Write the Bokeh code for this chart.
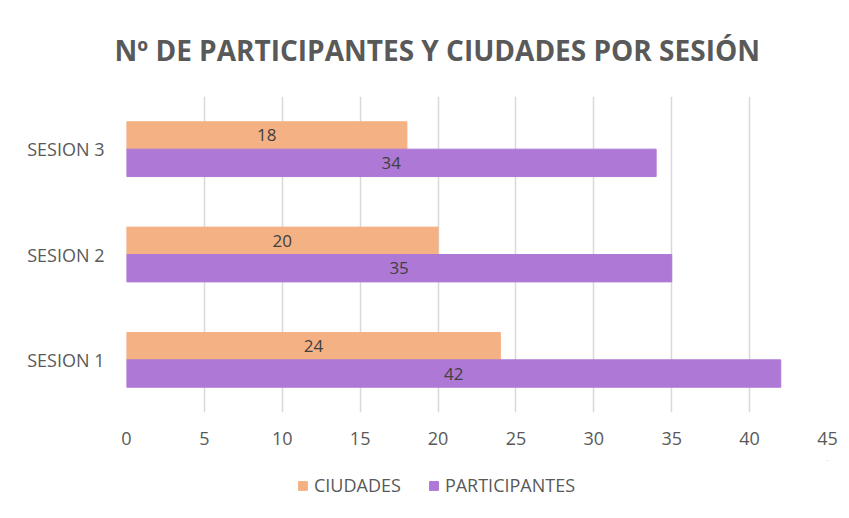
from bokeh.plotting import figure
from bokeh.layouts import column
from bokeh.models import ColumnDataSource, Legend, LegendItem, FixedTicker, FactorRange, Range1d, Title
from bokeh.transform import dodge
from bokeh.core.properties import value
from bokeh.embed import file_html
from bokeh.resources import INLINE

# ---- data ----
sessions = ["SESION 1", "SESION 2", "SESION 3"]
ciudades = [24, 20, 18]
participantes = [42, 35, 34]
x_ticks = [0, 5, 10, 15, 20, 25, 30, 35, 40, 45]
title_text = "Nº DE PARTICIPANTES Y CIUDADES POR SESIÓN"
series_names = ["CIUDADES", "PARTICIPANTES"]

ORANGE = "#F4B183"
PURPLE = "#AE78D6"
GRID = "#D9D9D9"
TXT = "#595959"
FONT = "Open Sans"

src = ColumnDataSource(dict(
    cat=sessions,
    ciu=ciudades,
    par=participantes,
    ciu_mid=[v / 2 for v in ciudades],
    par_mid=[v / 2 for v in participantes],
    ciu_lbl=[str(v) for v in ciudades],
    par_lbl=[str(v) for v in participantes],
))

p = figure(
    frame_width=701, frame_height=316,
    y_range=FactorRange(*sessions, range_padding=0),
    x_range=Range1d(0, 45),
    output_backend="svg", toolbar_location=None,
    min_border_left=126, min_border_right=22,
    min_border_top=96, min_border_bottom=48,
    title=None,
)
p.outline_line_color = None
p.background_fill_color = "white"
p.border_fill_color = "white"

bar_h = 0.26
off = 0.13
r_ciu = p.hbar(y=dodge("cat", off, range=p.y_range), left=0, right="ciu", height=bar_h,
               source=src, fill_color=ORANGE, line_color=ORANGE)
r_par = p.hbar(y=dodge("cat", -off, range=p.y_range), left=0, right="par", height=bar_h,
               source=src, fill_color=PURPLE, line_color=PURPLE)

p.text(x="ciu_mid", y=dodge("cat", off, range=p.y_range), text="ciu_lbl", source=src,
       text_align="center", text_baseline="middle", text_font=value(FONT),
       text_font_size="17px", text_color="#404040")
p.text(x="par_mid", y=dodge("cat", -off, range=p.y_range), text="par_lbl", source=src,
       text_align="center", text_baseline="middle", text_font=value(FONT),
       text_font_size="17px", text_color="#404040")

# axes
p.xaxis.ticker = FixedTicker(ticks=x_ticks)
for ax in (p.xaxis, p.yaxis):
    ax.axis_line_color = None
    ax.major_tick_line_color = None
    ax.minor_tick_line_color = None
    ax.major_label_text_font = FONT
    ax.major_label_text_font_size = "18px"
    ax.major_label_text_color = TXT
p.xaxis.major_label_standoff = 13
p.yaxis.major_label_standoff = 16

p.xgrid.grid_line_color = GRID
p.xgrid.grid_line_width = 1.5
p.ygrid.grid_line_color = None

# title
p.add_layout(Title(text=title_text, align="left", offset=-12, standoff=56,
                   text_font=FONT, text_font_style="bold", text_font_size="28px",
                   text_color=TXT), "above")

# legend in its own strip below the chart
lg = figure(width=849, height=58, output_backend="svg", toolbar_location=None,
            x_range=Range1d(0, 1), y_range=Range1d(0, 1),
            min_border_left=0, min_border_right=0, min_border_top=0, min_border_bottom=0,
            x_axis_type=None, y_axis_type=None, title=None)
lg.outline_line_color = None
lg.xgrid.visible = False
lg.ygrid.visible = False
# legend-only renderers: their single row lies fully outside the visible range
lg_src = ColumnDataSource(dict(y=[2], left=[2], right=[3]))
l_ciu = lg.hbar(y="y", left="left", right="right", height=0.1, source=lg_src,
                fill_color=ORANGE, line_color=ORANGE)
l_par = lg.hbar(y="y", left="left", right="right", height=0.1, source=lg_src,
                fill_color=PURPLE, line_color=PURPLE)
legend = Legend(items=[LegendItem(label=series_names[0], renderers=[l_ciu]),
                       LegendItem(label=series_names[1], renderers=[l_par])],
                orientation="horizontal", location=(171, 21),
                glyph_width=11, glyph_height=11, label_standoff=6, spacing=27,
                label_text_font=FONT, label_text_font_size="18px",
                label_text_color=TXT, border_line_color=None,
                background_fill_alpha=0, margin=0, padding=4)
lg.add_layout(legend)

layout = column(p, lg, spacing=0)
open("out.html", "w").write(file_html(layout, INLINE))
